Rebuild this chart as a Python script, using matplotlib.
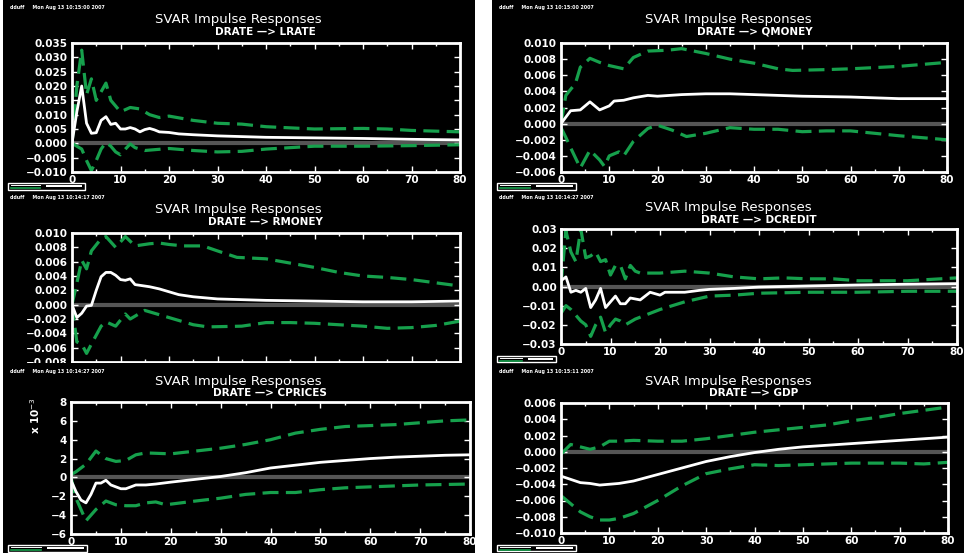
import matplotlib
matplotlib.use("Agg")
import matplotlib.pyplot as plt
from matplotlib.patches import Rectangle
from matplotlib.lines import Line2D
from matplotlib.ticker import MultipleLocator, FuncFormatter

W, H = 964, 556

# ---- DRATE -> LRATE ----
lrate_lag = [0, 1, 2, 3, 4, 5, 6, 7, 8, 9, 10, 11, 12, 13, 14, 15, 16, 17, 18, 20, 22, 25, 30, 40, 50, 60, 70, 80]
lrate_irf = [0, 0.011, 0.020, 0.007, 0.0035, 0.0037, 0.008, 0.0093, 0.0066, 0.007, 0.005, 0.005, 0.0055,
             0.005, 0.004, 0.0048, 0.0052, 0.0047, 0.004, 0.0038, 0.0033, 0.003, 0.0026, 0.0021, 0.0019,
             0.0017, 0.0014, 0.0012]
lrate_up_lag = [0, 1, 2, 3, 4, 5, 6, 7, 8, 9, 10, 12, 14, 16, 18, 20, 25, 30, 35, 40, 50, 60, 65, 70, 80]
lrate_up = [0, 0.02, 0.0325, 0.017, 0.0225, 0.015, 0.018, 0.021, 0.015, 0.013, 0.011, 0.0125, 0.012,
            0.010, 0.009, 0.0095, 0.008, 0.007, 0.0067, 0.0058, 0.005, 0.0052, 0.005, 0.0045, 0.004]
lrate_lo_lag = [0, 1, 2, 3, 4, 5, 6, 7, 8, 9, 10, 11, 12, 13, 15, 20, 25, 30, 35, 40, 50, 60, 70, 80]
lrate_lo = [0, -0.001, -0.002, -0.006, -0.0095, -0.006, -0.002, 0.0003, -0.001, -0.003, -0.004, -0.002,
            -0.0002, -0.0015, -0.0025, -0.0018, -0.0025, -0.003, -0.0028, -0.002, -0.001, -0.001,
            -0.0008, -0.0005]

# ---- DRATE -> QMONEY ----
qmoney_lag = [0, 2, 4, 6, 8, 10, 11, 13, 15, 18, 20, 25, 30, 35, 40, 50, 60, 70, 80]
qmoney_irf = [0, 0.0016, 0.0017, 0.0027, 0.0017, 0.0022, 0.0028, 0.0029, 0.0032, 0.0035, 0.0034, 0.0036,
              0.0037, 0.0037, 0.0036, 0.0034, 0.0033, 0.0031, 0.0031]
qmoney_up_lag = [0, 1, 3, 4, 6, 8, 10, 13, 15, 18, 22, 25, 30, 35, 40, 45, 48, 55, 60, 70, 80]
qmoney_up = [0, 0.0035, 0.005, 0.007, 0.0081, 0.0076, 0.0072, 0.0068, 0.0082, 0.009, 0.0091, 0.0093,
             0.0087, 0.008, 0.0075, 0.0068, 0.0066, 0.0067, 0.0068, 0.0071, 0.0076]
qmoney_lo_lag = [0, 1, 2, 4, 6, 8, 9, 10, 12, 13, 15, 18, 20, 23, 26, 30, 35, 40, 45, 50, 55, 60, 70, 80]
qmoney_lo = [-0.0005, -0.0017, -0.003, -0.0055, -0.0033, -0.0045, -0.0053, -0.004, -0.0035, -0.004,
             -0.0022, -0.0006, -0.0002, -0.0008, -0.0016, -0.0012, -0.0005, -0.0007, -0.0007, -0.001,
             -0.0009, -0.0009, -0.0015, -0.002]

# ---- DRATE -> RMONEY ----
rmoney_lag = [0, 1, 2, 3, 4, 5, 6, 7, 8, 9, 10, 11, 12, 13, 14, 16, 18, 20, 22, 25, 30, 40, 50, 60, 70, 80]
rmoney_irf = [0, -0.0018, -0.0012, -0.0002, -0.0001, 0.002, 0.0039, 0.0045, 0.0045, 0.0041, 0.0035,
              0.0034, 0.0036, 0.0028, 0.0027, 0.0025, 0.0022, 0.0018, 0.0014, 0.0011, 0.0008, 0.0006,
              0.0005, 0.0004, 0.0004, 0.0005]
rmoney_up_lag = [0, 1, 2, 3, 4, 6, 7, 9, 11, 13, 16, 18, 20, 23, 27, 30, 34, 40, 45, 50, 55, 60, 65, 70, 80]
rmoney_up = [0, 0.003, 0.0062, 0.005, 0.0075, 0.0092, 0.0095, 0.008, 0.0095, 0.0082, 0.0085, 0.0086,
             0.0084, 0.0082, 0.0082, 0.0075, 0.0066, 0.0064, 0.0058, 0.0052, 0.0045, 0.004, 0.0038,
             0.0035, 0.0026]
rmoney_lo_lag = [0, 1, 2, 3, 4, 6, 7, 9, 11, 12, 14, 15, 17, 20, 22, 25, 28, 35, 40, 45, 50, 55, 60, 65,
                 70, 75, 80]
rmoney_lo = [0, -0.0052, -0.0055, -0.0068, -0.0055, -0.003, -0.0024, -0.003, -0.0013, -0.002, -0.0012,
             -0.0008, -0.0012, -0.0018, -0.0022, -0.0028, -0.0031, -0.003, -0.0025, -0.0025, -0.0026,
             -0.0028, -0.003, -0.0033, -0.0032, -0.0029, -0.0023]

# ---- DRATE -> DCREDIT ----
dcredit_lag = [0, 1, 2, 3, 4, 5, 6, 7, 8, 9, 10, 11, 12, 13, 14, 16, 18, 20, 21, 25, 28, 30, 35, 40, 50,
               60, 70, 80]
dcredit_irf = [0.003, 0.005, -0.003, -0.002, -0.003, -0.001, -0.011, -0.007, -0.001, -0.011, -0.008,
               -0.005, -0.009, -0.009, -0.006, -0.007, -0.003, -0.0045, -0.003, -0.003, -0.002, -0.0015,
               -0.001, -0.0003, 0.0003, 0.0008, 0.0012, 0.0015]
dcredit_up_lag = [0, 1, 2, 3, 4, 5, 6, 7, 8, 9, 10, 11, 12, 13, 14, 15, 16, 20, 25, 30, 35, 40, 45, 50,
                  55, 60, 70, 80]
dcredit_up = [0.001, 0.029, 0.018, 0.013, 0.030, 0.015, 0.016, 0.018, 0.013, 0.014, 0.006, 0.011, 0.011,
              0.004, 0.011, 0.008, 0.007, 0.007, 0.008, 0.007, 0.005, 0.004, 0.0045, 0.004, 0.004, 0.003,
              0.003, 0.0045]
dcredit_lo_lag = [0, 1, 2, 3, 4, 5, 6, 7, 8, 9, 10, 11, 12, 13, 15, 17, 20, 25, 30, 35, 40, 50, 60, 70, 80]
dcredit_lo = [-0.014, -0.010, -0.012, -0.015, -0.018, -0.020, -0.026, -0.020, -0.016, -0.024, -0.020,
              -0.017, -0.018, -0.020, -0.017, -0.015, -0.012, -0.008, -0.005, -0.0045, -0.0035, -0.003,
              -0.003, -0.0025, -0.0025]

# ---- DRATE -> CPRICES (x 10^-3) ----
cprices_lag = [0, 1, 2, 3, 4, 5, 6, 7, 8, 9, 10, 11, 12, 13, 15, 17, 20, 25, 30, 35, 40, 45, 50, 55, 60,
               65, 70, 75, 80]
cprices_irf = [-0.3, -1.5, -2.4, -2.7, -1.8, -0.6, -0.6, -0.3, -0.8, -1.0, -1.2, -1.2, -1.0, -0.8, -0.8,
               -0.7, -0.5, -0.2, 0.1, 0.5, 1.0, 1.3, 1.6, 1.8, 2.0, 2.15, 2.25, 2.35, 2.4]
cprices_up_lag = [0, 1, 3, 5, 7, 9, 11, 13, 15, 20, 25, 30, 35, 40, 45, 50, 55, 60, 65, 70, 75, 80]
cprices_up = [0.3, 0.6, 1.4, 2.8, 2.0, 1.7, 1.8, 2.4, 2.6, 2.5, 2.8, 3.1, 3.5, 4.0, 4.7, 5.1, 5.4, 5.5,
              5.6, 5.8, 6.0, 6.1]
cprices_lo_lag = [0, 1, 3, 5, 7, 9, 11, 13, 15, 17, 19, 22, 25, 30, 35, 40, 45, 50, 55, 60, 65, 70, 80]
cprices_lo = [0, -2.2, -4.6, -3.4, -2.5, -2.9, -3.0, -3.0, -2.7, -2.6, -2.9, -2.7, -2.5, -2.2, -1.8, -1.6,
              -1.6, -1.3, -1.1, -1.0, -0.9, -0.8, -0.7]

# ---- DRATE -> GDP ----
gdp_lag = [0, 2, 4, 6, 8, 10, 12, 15, 20, 25, 30, 35, 40, 45, 50, 55, 60, 65, 70, 75, 80]
gdp_irf = [-0.003, -0.0034, -0.0038, -0.0039, -0.0041, -0.004, -0.0039, -0.0036, -0.0028, -0.002,
           -0.0012, -0.0006, -0.0001, 0.0003, 0.0006, 0.0008, 0.001, 0.0012, 0.0014, 0.0016, 0.0018]
gdp_up = [-0.0003, 0.0009, 0.0006, 0.0003, 0.0006, 0.0013, 0.0013, 0.0014, 0.0013, 0.0013, 0.0016,
          0.002, 0.0024, 0.0027, 0.003, 0.0033, 0.0038, 0.0042, 0.0047, 0.0051, 0.0055]
gdp_lo = [-0.0054, -0.0064, -0.0074, -0.008, -0.0084, -0.0084, -0.0082, -0.0076, -0.006, -0.0042,
          -0.0027, -0.0021, -0.0016, -0.0017, -0.0016, -0.0015, -0.0014, -0.0014, -0.0014, -0.0015,
          -0.0013]

stamps = ["Mon Aug 13 10:15:00 2007", "Mon Aug 13 10:15:00 2007", "Mon Aug 13 10:14:17 2007",
          "Mon Aug 13 10:14:27 2007", "Mon Aug 13 10:14:27 2007", "Mon Aug 13 10:15:11 2007"]

GREEN = "#16a04c"
FONT = "DejaVu Sans"

fig = plt.figure(figsize=(W / 100, H / 100), dpi=100, facecolor="white")


def fx(px):
    return px / W


def fy(py):
    return 1 - py / H


def rect(l, t, r, b, **kw):
    fig.patches.append(Rectangle((fx(l), fy(b)), fx(r - l), (b - t) / H,
                                 transform=fig.transFigure, **kw))


def ftext(x, y, s, **kw):
    fig.text(fx(x), fy(y), s, color="white", family=FONT, **kw)


# black screenshot backgrounds
rect(3, 0, 475, 553, facecolor="black", edgecolor="none", zorder=-10)
rect(492, 0, 964, 553, facecolor="black", edgecolor="none", zorder=-10)


def minus(fmt):
    return FuncFormatter(lambda v, p: (fmt % v).replace("-", "\u2212"))


def panel(box, name, lags, irf, up_lag, up, lo_lag, lo, ylim, ystep, fmt, title_c, sub_c, ty,
          show_x=True):
    l, t, r, b = box
    ax = fig.add_axes([fx(l), fy(b), fx(r - l), (b - t) / H])
    ax.set_facecolor("black")
    ax.axhline(0, color="#555555", lw=3, zorder=1)
    ax.plot(up_lag, up, color=GREEN, lw=2.3, dashes=(5, 2.3), zorder=2)
    ax.plot(lo_lag, lo, color=GREEN, lw=2.3, dashes=(5, 2.3), zorder=2)
    ax.plot(lags, irf, color="white", lw=2, zorder=3)
    ax.set_xlim(0, 80)
    ax.set_ylim(*ylim)
    ax.xaxis.set_major_locator(MultipleLocator(10))
    ax.xaxis.set_minor_locator(MultipleLocator(5))
    ax.yaxis.set_major_locator(MultipleLocator(ystep))
    ax.yaxis.set_major_formatter(minus(fmt))
    for s in ax.spines.values():
        s.set_color("white")
        s.set_linewidth(2)
    ax.tick_params(which="both", direction="in", colors="white", top=True, right=True,
                   labelsize=7.5, pad=3)
    ax.tick_params(which="major", length=4, width=1)
    ax.tick_params(which="minor", length=2, width=1)
    ax.tick_params(axis="x", pad=2, labelbottom=show_x)
    for lab in ax.get_xticklabels() + ax.get_yticklabels():
        lab.set_fontweight("bold")
        lab.set_family(FONT)
    ftext(title_c, ty, "SVAR Impulse Responses", fontsize=9.5, ha="center", va="center")
    ftext(sub_c, ty + 12, "DRATE \u2014> " + name, fontsize=7.5, fontweight="bold",
          ha="center", va="center")
    return ax


panel((72, 43, 460, 172), "LRATE", lrate_lag, lrate_irf, lrate_up_lag, lrate_up, lrate_lo_lag, lrate_lo,
      (-0.010, 0.035), 0.005, "%.3f", 238, 265, 20)
panel((561, 43, 947, 172), "QMONEY", qmoney_lag, qmoney_irf, qmoney_up_lag, qmoney_up, qmoney_lo_lag,
      qmoney_lo, (-0.006, 0.010), 0.002, "%.3f", 728, 755, 20)
panel((72, 233, 460, 362), "RMONEY", rmoney_lag, rmoney_irf, rmoney_up_lag, rmoney_up, rmoney_lo_lag,
      rmoney_lo, (-0.008, 0.010), 0.002, "%.3f", 238, 265, 210, show_x=False)
panel((561, 229, 957, 344), "DCREDIT", dcredit_lag, dcredit_irf, dcredit_up_lag, dcredit_up,
      dcredit_lo_lag, dcredit_lo, (-0.03, 0.03), 0.01, "%.2f", 728, 759, 208)
panel((71, 402, 470, 534), "CPRICES", cprices_lag, cprices_irf, cprices_up_lag, cprices_up,
      cprices_lo_lag, cprices_lo, (-6, 8), 2, "%d", 238, 270, 381)
panel((561, 403, 948, 533), "GDP", gdp_lag, gdp_irf, gdp_lag, gdp_up, gdp_lag, gdp_lo,
      (-0.010, 0.006), 0.002, "%.3f", 728, 754, 381)

ftext(35, 416, "x 10$^{-3}$", fontsize=7.5, fontweight="bold", rotation=90, ha="center", va="center")

# bottom-left screenshot overlaps the lower edge of the RMONEY one
rect(3, 363, 475, 368, facecolor="black", edgecolor="none", zorder=5)

# date stamps
for (x, y), s in zip([(10, 8), (499, 8), (10, 197), (499, 197), (10, 371), (499, 371)], stamps):
    ftext(x, y, "dduff     " + s, fontsize=3.4, fontweight="bold", va="center")

# little legend boxes cut off at the bottom of each screenshot
for l, t, r, b in [(8, 183, 85, 190), (497, 183, 576, 190), (497, 356, 556, 362),
                   (8, 545, 87, 552), (497, 545, 576, 551)]:
    rect(l, t, r, b, facecolor="black", edgecolor="white", lw=1, zorder=6)
    mid = l + (r - l) * 0.42
    fig.add_artist(Line2D([fx(l + 3), fx(mid)], [fy(t + 2.2), fy(t + 2.2)], color="white", lw=0.7,
                          zorder=7))
    fig.add_artist(Line2D([fx(l + 3), fx(mid)], [fy(t + 4.5), fy(t + 4.5)], color=GREEN, lw=1.2,
                          zorder=7))
    rect(mid + 6, t + 2, r - 3, t + 4, facecolor="white", edgecolor="none", zorder=7)

fig.savefig("out.png", dpi=100, facecolor="white")
